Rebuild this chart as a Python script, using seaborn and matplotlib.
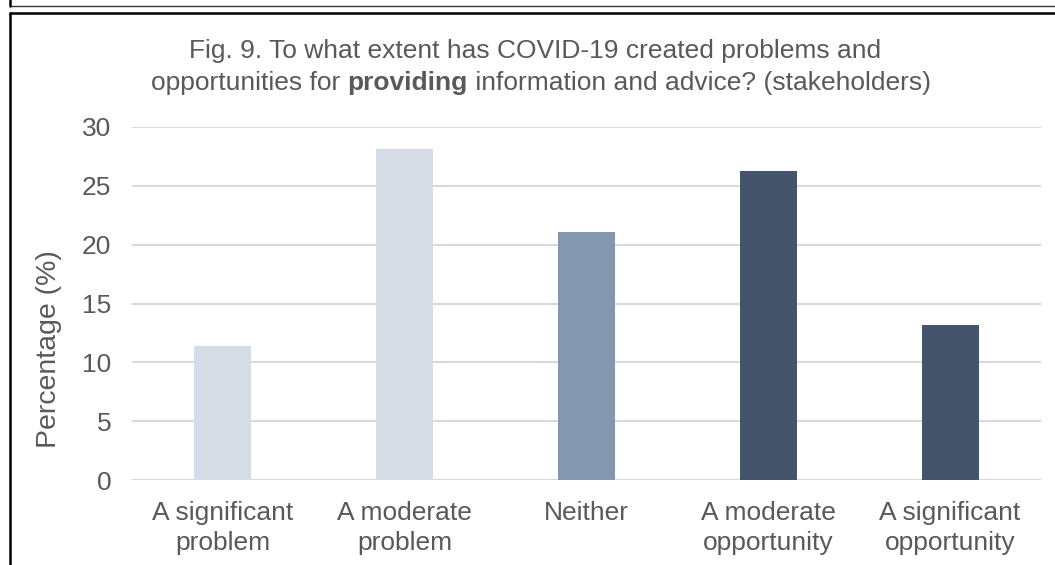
import matplotlib
matplotlib.use("Agg")
import matplotlib.pyplot as plt
import seaborn as sns
import pandas as pd
from matplotlib.lines import Line2D

categories = ["A significant\nproblem", "A moderate\nproblem", "Neither",
              "A moderate\nopportunity", "A significant\nopportunity"]
values = [11.4, 28.1, 21.1, 26.3, 13.2]
colors = ["#D6DCE5", "#D6DCE5", "#8497B0", "#44546A", "#44546A"]
yticks = [0, 5, 10, 15, 20, 25, 30]
title_line1 = "Fig. 9. To what extent has COVID-19 created problems and"
title_line2 = ["opportunities for ", "providing", " information and advice? (stakeholders)"]
ylabel = "Percentage (%)"

sns.set_style("white")
plt.rcParams["font.family"] = ["Liberation Sans", "DejaVu Sans"]

W, H = 1055, 565
fig = plt.figure(figsize=(W / 100, H / 100), dpi=100)
ax = fig.add_axes([132 / W, 1 - 480 / H, (1041 - 132) / W, (480 - 127) / H])

df = pd.DataFrame({"cat": categories, "val": values})
sns.barplot(data=df, x="cat", y="val", hue="cat", palette=colors, legend=False,
            width=0.314, ax=ax, saturation=1, zorder=3, linewidth=0, edgecolor="none")

ax.set_ylim(0, 30)
ax.set_xlim(-0.5, len(categories) - 0.5)
ax.set_yticks(yticks)
ax.yaxis.grid(True, color="#D9D9D9", linewidth=1.5, zorder=0)
ax.xaxis.grid(False)
ax.set_axisbelow(True)
for s in ax.spines.values():
    s.set_visible(False)
ax.set_xlabel("")
ax.set_ylabel("")
ax.tick_params(axis="both", length=0, labelsize=19, colors="#595959")
ax.tick_params(axis="x", pad=15)
ax.tick_params(axis="y", pad=15)
for lbl in ax.get_xticklabels():
    lbl.set_linespacing(1.3)

tc = "#595959"
fig.text(49 / W, 1 - 349 / H, ylabel, rotation=90, ha="center", va="center",
         fontsize=20.5, color=tc)

# title
fig.text(535 / W, 1 - 51 / H, title_line1, ha="center", va="center", fontsize=19, color=tc)
renderer = fig.canvas.get_renderer()
parts = []
weights = ["normal", "bold", "normal"]
for txt, wgt in zip(title_line2, weights):
    t = fig.text(0, 1 - 83 / H, txt, ha="left", va="center", fontsize=19,
                 color=tc, fontweight=wgt)
    parts.append(t)
widths = [p.get_window_extent(renderer).width for p in parts]
total = sum(widths)
x0 = 541 - total / 2
for p, w in zip(parts, widths):
    p.set_x(x0 / W)
    x0 += w

# frame lines
def hline(y, x0, x1, lw, c):
    fig.add_artist(Line2D([x0 / W, x1 / W], [1 - y / H, 1 - y / H], lw=lw, color=c,
                          transform=fig.transFigure))

def vline(x, y0, y1, lw, c):
    fig.add_artist(Line2D([x / W, x / W], [1 - y0 / H, 1 - y1 / H], lw=lw, color=c,
                          transform=fig.transFigure))

hline(6, 10, W, 1.0, "#333333")
hline(13, 10, W, 1.8, "black")
vline(10, 0, 6, 1.8, "black")
vline(10, 13, H, 1.8, "black")

fig.savefig("out.png", dpi=100)
